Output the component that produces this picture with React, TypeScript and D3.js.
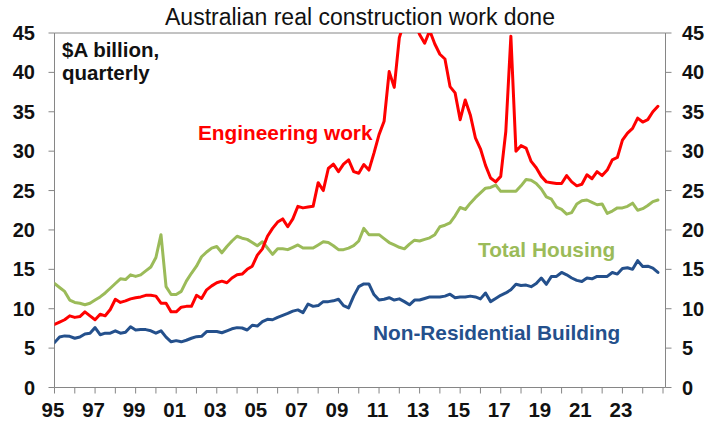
import React from "react";
import * as d3 from "d3";

const startYear = 1995;
const yTicks = [0, 5, 10, 15, 20, 25, 30, 35, 40, 45];
const yearTicks = d3.range(1995, 2026);
const xLabels = ["95", "97", "99", "01", "03", "05", "07", "09", "11", "13", "15", "17", "19", "21", "23"];

const housing = [
  13.2, 12.7, 12.2, 11.1, 10.8, 10.7, 10.5, 10.7, 11.1, 11.5,
  12.0, 12.6, 13.2, 13.8, 13.7, 14.3, 14.1, 14.3, 14.8, 15.3,
  16.5, 19.4, 12.8, 11.8, 11.8, 12.2, 13.5, 14.5, 15.4, 16.6,
  17.2, 17.7, 17.9, 17.1, 17.9, 18.6, 19.2, 18.95, 18.8, 18.4,
  18.0, 18.5, 17.7, 16.9, 17.6, 17.6, 17.5, 17.8, 18.1, 17.7,
  17.7, 17.7, 18.1, 18.5, 18.4, 18.0, 17.5, 17.5, 17.7, 18.0,
  18.6, 20.2, 19.4, 19.4, 19.4, 18.9, 18.4, 18.1, 17.8, 17.6,
  18.2, 18.7, 18.6, 18.8, 19.0, 19.4, 20.4, 20.6, 20.9, 21.8,
  22.85, 22.6, 23.4, 24.1, 24.7, 25.3, 25.4, 25.7, 24.9, 24.9,
  24.9, 24.9, 25.6, 26.4, 26.3, 25.9, 25.2, 24.2, 23.9, 22.9,
  22.6, 22.0, 22.2, 23.3, 23.7, 23.8, 23.5, 23.2, 23.3, 22.1,
  22.4, 22.8, 22.8, 23.0, 23.4, 22.5, 22.7, 23.1, 23.6, 23.8,
];

const engineering = [
  8.0, 8.3, 8.6, 9.1, 8.9, 9.0, 9.6, 9.1, 8.6, 9.3,
  9.1, 9.9, 11.2, 10.8, 11.0, 11.25, 11.4, 11.5, 11.7, 11.7,
  11.6, 10.7, 10.7, 9.6, 9.6, 10.2, 10.3, 10.3, 11.7, 11.3,
  12.4, 12.9, 13.3, 13.5, 13.3, 13.9, 14.3, 14.4, 15.0, 15.4,
  16.8, 17.6, 19.2, 20.2, 21.0, 21.4, 20.4, 21.4, 23.0, 22.8,
  22.9, 23.0, 26.0, 25.0, 27.8, 28.35, 27.4, 28.35, 28.9, 27.4,
  27.2, 28.3, 27.6, 29.75, 32.1, 33.8, 40.1, 38.1, 44.4, 46.5,
  47.5, 46.5, 44.8, 43.7, 45.3, 43.6, 42.3, 41.7, 38.2, 37.4,
  34.0, 36.5, 34.6, 31.7, 30.3, 28.2, 26.6, 26.1, 26.8, 32.5,
  44.6, 30.0, 30.7, 30.4, 28.7, 27.9, 26.8, 26.1, 26.0, 25.9,
  25.9, 26.9, 26.1, 25.6, 25.8, 27.0, 26.5, 27.4, 26.9, 27.6,
  28.9, 29.2, 31.4, 32.3, 32.9, 34.2, 33.7, 34.0, 35.0, 35.7,
];

const nonResidential = [
  5.7, 6.4, 6.55, 6.5, 6.25, 6.4, 6.8, 6.9, 7.6, 6.7,
  6.9, 6.9, 7.2, 6.9, 7.0, 7.7, 7.3, 7.35, 7.35, 7.2,
  6.9, 7.2, 6.4, 5.8, 5.95, 5.8, 6.0, 6.25, 6.45, 6.5,
  7.1, 7.1, 7.1, 6.95, 7.2, 7.45, 7.6, 7.55, 7.3, 7.9,
  7.8, 8.35, 8.65, 8.6, 8.9, 9.15, 9.4, 9.7, 9.85, 9.5,
  10.6, 10.3, 10.4, 10.9, 10.9, 11.0, 11.2, 10.4, 10.1, 11.6,
  12.8, 13.15, 13.15, 11.8, 11.1, 11.2, 11.4, 11.1, 11.25, 10.9,
  10.5, 11.1, 11.1, 11.3, 11.5, 11.5, 11.5, 11.6, 11.85, 11.4,
  11.5, 11.5, 11.6, 11.5, 11.25, 12.0, 10.9, 11.3, 11.7, 12.0,
  12.4, 13.1, 12.95, 13.0, 12.8, 13.2, 13.9, 13.1, 14.1, 14.1,
  14.6, 14.3, 13.9, 13.6, 13.45, 13.9, 13.8, 14.1, 14.1, 14.1,
  14.6, 14.4, 15.1, 15.2, 15.0, 16.1, 15.35, 15.4, 15.15, 14.6,
];

const RED = "#FF0000";
const GREEN = "#9BBB59";
const BLUE = "#24508C";
const AXIS = "#868686";
const FONT = "'Liberation Sans', Arial, sans-serif";

export default function App() {
  const W = 720;
  const H = 423;
  const left = 54.5;
  const right = 665.5;
  const axisEnd = 663;
  const top = 33;
  const bottom = 387.5;

  const x = d3.scaleLinear().domain([1995, 2025]).range([left, axisEnd]);
  const y = d3.scaleLinear().domain([0, 45]).range([bottom, top]);

  const line = d3
    .line<number>()
    .x((_, i) => x(startYear + i / 4))
    .y((d) => y(d));

  const series = [
    { data: housing, color: GREEN },
    { data: nonResidential, color: BLUE },
    { data: engineering, color: RED },
  ];

  return (
    <svg
      width={W}
      height={H}
      style={{ position: "absolute", left: 0, top: 0, display: "block", background: "#fff" }}
      fontFamily={FONT}
    >
      <defs>
        <clipPath id="plotClip">
          <rect x={left} y={top} width={right - left} height={bottom - top} />
        </clipPath>
      </defs>
      <rect x={0} y={0} width={W} height={H} fill="#fff" />

      <text x={360} y={25} textAnchor="middle" fontSize={23} fill="#111">
        Australian real construction work done
      </text>

      {/* frame */}
      <line x1={left} x2={right} y1={top} y2={top} stroke={AXIS} strokeWidth={1} />
      <line x1={left} x2={left} y1={top} y2={bottom} stroke={AXIS} strokeWidth={1} />
      <line x1={right} x2={right} y1={top} y2={bottom} stroke={AXIS} strokeWidth={1} />
      <line x1={left} x2={right} y1={bottom} y2={bottom} stroke={AXIS} strokeWidth={1} />

      {yTicks.map((t) => (
        <g key={"y" + t}>
          <line x1={left - 6} x2={left} y1={y(t)} y2={y(t)} stroke={AXIS} />
          <line x1={right} x2={right + 6} y1={y(t)} y2={y(t)} stroke={AXIS} />
          <text x={35} y={y(t) + 7} textAnchor="end" fontSize={20} fontWeight="bold" fill="#111">
            {t}
          </text>
          <text x={682} y={y(t) + 7} textAnchor="start" fontSize={20} fontWeight="bold" fill="#111">
            {t}
          </text>
        </g>
      ))}

      {yearTicks.map((yr) => (
        <line key={"x" + yr} x1={x(yr)} x2={x(yr)} y1={bottom} y2={bottom + 6} stroke={AXIS} />
      ))}
      {xLabels.map((lab, i) => (
        <text
          key={"xl" + lab}
          x={x(1995 + i * 2) - 1.5}
          y={417}
          textAnchor="middle"
          fontSize={20.5}
          fontWeight="bold"
          fill="#111"
        >
          {lab}
        </text>
      ))}

      <g clipPath="url(#plotClip)">
        {series.map((s) => (
          <path
            key={s.color}
            d={line(s.data) || ""}
            fill="none"
            stroke={s.color}
            strokeWidth={3}
            strokeLinejoin="round"
            strokeLinecap="round"
          />
        ))}
      </g>

      <text x={62} y={57} fontSize={20.5} fontWeight="bold" fill="#111">
        $A billion,
      </text>
      <text x={62} y={80} fontSize={20.5} fontWeight="bold" fill="#111">
        quarterly
      </text>

      <text x={198} y={140} fontSize={20.8} fontWeight="bold" fill={RED}>
        Engineering work
      </text>
      <text x={478} y={257} fontSize={20.8} fontWeight="bold" fill={GREEN}>
        Total Housing
      </text>
      <text x={373} y={340} fontSize={20.8} fontWeight="bold" fill={BLUE}>
        Non-Residential Building
      </text>
    </svg>
  );
}
